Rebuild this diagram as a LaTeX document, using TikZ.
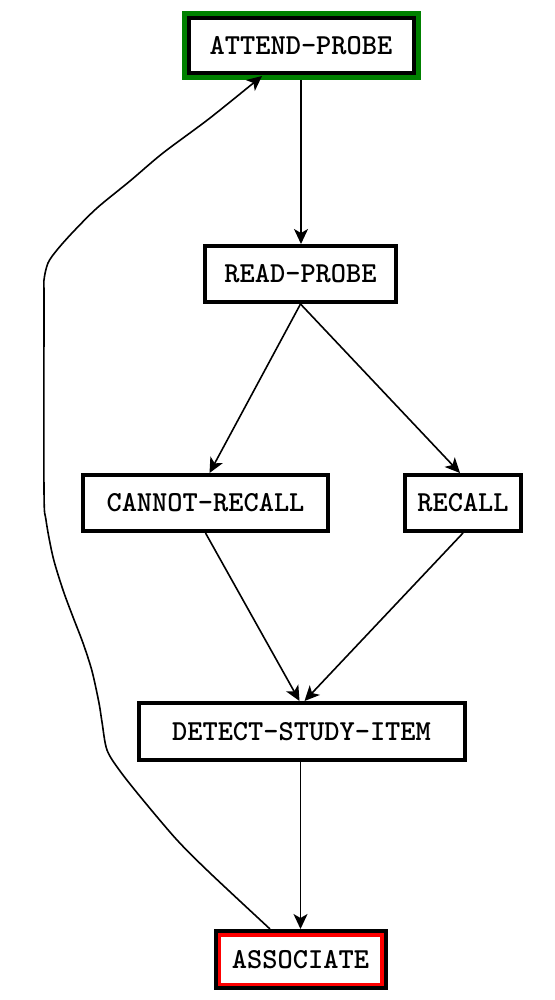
\documentclass[tikz,border=0pt]{standalone}
\usepackage{fontspec}
\usetikzlibrary{arrows.meta}
\definecolor{gvgreen}{RGB}{0,128,0}
\definecolor{gvred}{RGB}{255,0,0}
\begin{document}
\begin{tikzpicture}[x=1pt,y=-1pt,
  box/.style={draw=black, line width=4pt, fill=white, inner sep=0pt, minimum height=56pt,
    font=\ttfamily\bfseries\fontsize{29}{34}\selectfont},
  conn/.style={line width=1.6pt, -{Stealth[length=15pt,width=14pt,inset=4pt]}}]
\useasboundingbox (0,0) rectangle (554,1000);
% nodes
\node[box, draw=gvgreen, line width=5pt, minimum width=234pt, minimum height=64pt] (ap) at (301,45.5) {ATTEND-PROBE};
\draw[line width=4pt] ([shift={(7,7)}]ap.north west) rectangle ([shift={(-7,-7)}]ap.south east);
\node[box, minimum width=191pt] (rp) at (300.5,274) {READ-PROBE};
\node[box, minimum width=245pt] (cr) at (205.5,503) {CANNOT-RECALL};
\node[box, minimum width=116pt] (rc) at (463,503) {RECALL};
\node[box, minimum width=326pt, minimum height=57pt] (ds) at (301.5,731.5) {DETECT-STUDY-ITEM};
\node[box, minimum width=170pt, minimum height=57pt] (as) at (300.5,959.5) {ASSOCIATE};
\draw[gvred, line width=3.5pt] ([shift={(5.75,5.75)}]as.north west) rectangle ([shift={(-5.75,-5.75)}]as.south east);
% connectors
\draw[conn] (ap.south) -- (ap.south |- rp.north);
\draw[conn] (rp.south) -- ([xshift=4pt]cr.north);
\draw[conn] (rp.south) -- ([xshift=-3pt]rc.north);
\draw[conn] (cr.south) -- ([xshift=-2pt]ds.north);
\draw[conn] (rc.south) -- ([xshift=3pt]ds.north);
\draw[conn] (as.north |- ds.south) -- (as.north);
\draw[conn] plot[smooth, tension=0.5] coordinates {([xshift=-30.5pt]as.north) (210,873) (177,840) (143,800) (120,771) (107,750) (102,722) (99,703) (92,671) (83,643) (73,617) (63,590) (53,557) (46,520) (44,490) (44,300) (44,280) (48,263) (57,250) (73,232) (97,208) (130,181) (163,153) (210,118) ([xshift=-39pt,yshift=4pt]ap.south)};
\end{tikzpicture}
\end{document}
